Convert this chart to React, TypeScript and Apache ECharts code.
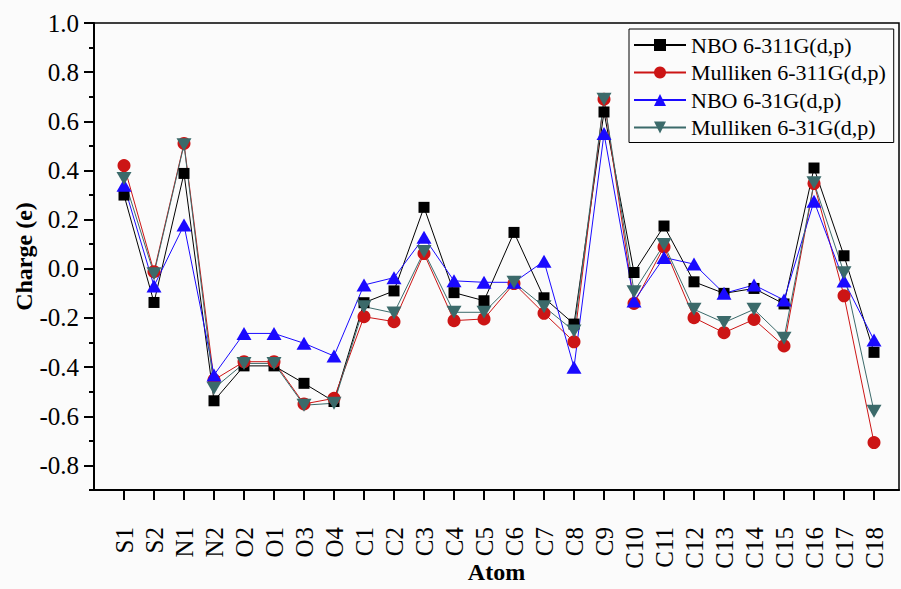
import React, { useEffect, useRef } from 'react';
import * as echarts from 'echarts';

const atoms = ['S1', 'S2', 'N1', 'N2', 'O2', 'O1', 'O3', 'O4', 'C1', 'C2', 'C3', 'C4', 'C5', 'C6', 'C7', 'C8', 'C9', 'C10', 'C11', 'C12', 'C13', 'C14', 'C15', 'C16', 'C17', 'C18'];

const nbo311 = [0.30, -0.137, 0.388, -0.537, -0.395, -0.395, -0.466, -0.54, -0.138, -0.09, 0.25, -0.097, -0.13, 0.148, -0.118, -0.225, 0.638, -0.015, 0.174, -0.053, -0.10, -0.08, -0.143, 0.41, 0.053, -0.34];
const mulliken311 = [0.42, -0.012, 0.51, -0.452, -0.378, -0.378, -0.55, -0.527, -0.195, -0.215, 0.062, -0.211, -0.204, -0.06, -0.181, -0.297, 0.69, -0.141, 0.089, -0.199, -0.26, -0.206, -0.314, 0.347, -0.11, -0.707];
const nbo31 = [0.34, -0.07, 0.178, -0.432, -0.263, -0.263, -0.303, -0.355, -0.066, -0.036, 0.128, -0.049, -0.055, -0.055, 0.031, -0.401, 0.55, -0.131, 0.046, 0.019, -0.10, -0.066, -0.127, 0.275, -0.05, -0.29];
const mulliken31 = [0.367, -0.02, 0.505, -0.486, -0.385, -0.385, -0.555, -0.547, -0.154, -0.18, 0.07, -0.177, -0.177, -0.055, -0.154, -0.253, 0.69, -0.093, 0.099, -0.165, -0.219, -0.165, -0.283, 0.35, -0.016, -0.58];

const yMajorTicks = [-0.8, -0.6, -0.4, -0.2, 0.0, 0.2, 0.4, 0.6, 0.8, 1.0];
const yMinorTicks = [-0.9, -0.7, -0.5, -0.3, -0.1, 0.1, 0.3, 0.5, 0.7, 0.9];

const seriesNames = ['NBO 6-311G(d,p)', 'Mulliken 6-311G(d,p)', 'NBO 6-31G(d,p)', 'Mulliken 6-31G(d,p)'];

export default function App() {
  const ref = useRef<HTMLDivElement>(null);
  useEffect(() => {
    const chart = echarts.init(ref.current as HTMLDivElement, null, { renderer: 'svg' });
    const font = '"Liberation Serif", "Times New Roman", serif';
    const positions = atoms.map((_, i) => i + 1);
    const labelStyle = { fontFamily: font, fontSize: 25, color: '#000', fontWeight: 'normal' };
    const mk = (name: string, vals: number[], color: string, symbol: string, size: number | number[]) => ({
      name,
      type: 'line',
      xAxisIndex: 0,
      yAxisIndex: 0,
      data: vals.map((v, i) => [i + 1, v]),
      symbol,
      symbolSize: size,
      showAllSymbol: true,
      lineStyle: { color, width: 1 },
      itemStyle: { color, borderWidth: 0 },
      emphasis: { disabled: true },
    });
    chart.setOption({
      animation: false,
      backgroundColor: '#fbfbfb',
      textStyle: { fontFamily: font, fontSize: 25, color: '#000' },
      grid: {
        left: 94, top: 23, right: 2, bottom: 99,
        show: true, borderColor: '#000', borderWidth: 1.5,
        containLabel: false,
        outerBoundsMode: 'none',
      },
      legend: {
        orient: 'vertical',
        left: 629, top: 29,
        padding: [5, 8, 4, 4],
        itemGap: 5.5,
        itemWidth: 52,
        itemHeight: 15,
        backgroundColor: '#fbfbfb',
        borderColor: '#000',
        borderWidth: 1,
        borderRadius: 0,
        textStyle: { fontFamily: font, fontSize: 22, color: '#000', lineHeight: 22 },
        data: seriesNames,
      },
      xAxis: {
        type: 'value',
        min: 0,
        max: 26.833,
        position: 'bottom',
        axisLine: { show: true, onZero: false, lineStyle: { color: '#000', width: 2 } },
        axisTick: { show: true, inside: false, length: 10, customValues: positions, lineStyle: { color: '#000', width: 2 } },
        axisLabel: {
          show: true,
          customValues: positions,
          rotate: 90,
          margin: 37,
          ...labelStyle,
          formatter: (v: number) => atoms[Math.round(v) - 1] ?? '',
        },
        splitLine: { show: false },
        name: 'Atom',
        nameLocation: 'middle',
        nameGap: 70,
        nameMoveOverlap: false,
        nameTextStyle: { fontFamily: font, fontSize: 24, fontWeight: 'bold', color: '#000' },
      },
      yAxis: [
        {
          type: 'value',
          min: -0.9,
          max: 1.0,
          axisLine: { show: true, onZero: false, lineStyle: { color: '#000', width: 2 } },
          axisTick: { show: true, inside: false, length: 10, customValues: yMajorTicks, lineStyle: { color: '#000', width: 2 } },
          axisLabel: {
            show: true,
            customValues: yMajorTicks,
            margin: 15,
            ...labelStyle,
            formatter: (v: number) => v.toFixed(1),
          },
          splitLine: { show: false },
          name: 'Charge (e)',
          nameLocation: 'middle',
          nameGap: 58,
          nameMoveOverlap: false,
          nameTextStyle: { fontFamily: font, fontSize: 24, fontWeight: 'bold', color: '#000' },
        },
        {
          type: 'value',
          position: 'left',
          min: -0.9,
          max: 1.0,
          axisLine: { show: false, onZero: false },
          axisTick: { show: true, inside: false, length: 5, customValues: yMinorTicks, lineStyle: { color: '#000', width: 2 } },
          axisLabel: { show: false },
          splitLine: { show: false },
        },
      ],
      series: [
        mk(seriesNames[0], nbo311, '#000000', 'rect', 11),
        mk(seriesNames[1], mulliken311, '#cc1515', 'circle', 13),
        mk(seriesNames[2], nbo31, '#1a0aff', 'triangle', [15, 13]),
        mk(seriesNames[3], mulliken31, '#3b6a6a', 'path://M0,0L10,0L5,8.7Z', [15, 13]),
      ],
    });
    return () => chart.dispose();
  }, []);
  return <div ref={ref} style={{ position: 'absolute', left: 0, top: 0, width: 901, height: 589 }} />;
}
